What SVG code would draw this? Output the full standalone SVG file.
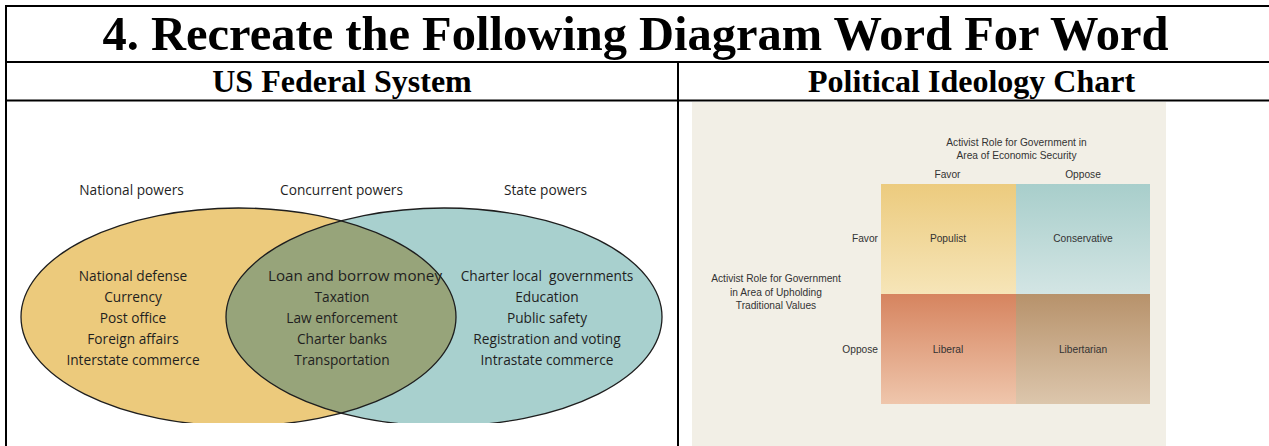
<svg xmlns="http://www.w3.org/2000/svg" width="1269" height="446" viewBox="0 0 1269 446">
<style>
.rule{stroke:#000;stroke-width:2;fill:none}
.title{font-family:"Liberation Serif","Times New Roman",serif;font-weight:bold;fill:#000;text-anchor:middle}
.venn{font-family:"Open Sans","Liberation Sans",sans-serif;font-size:13.7px;fill:#1f1f1f;text-anchor:middle}
.chart{font-family:"Liberation Sans",Arial,sans-serif;font-size:10.2px;fill:#333;text-anchor:middle}
.edge{fill:none;stroke:#1e1e1e;stroke-width:1.3}
</style>
<defs>
<clipPath id="vennClip"><rect x="0" y="100" width="678" height="323"/></clipPath>
<clipPath id="leftClip"><ellipse cx="238.5" cy="317" rx="217.5" ry="109"/></clipPath>
<linearGradient id="gPop" x1="0" y1="0" x2="0" y2="1"><stop offset="0" stop-color="#ECCB7E"/><stop offset="1" stop-color="#F6E5B8"/></linearGradient>
<linearGradient id="gCon" x1="0" y1="0" x2="0" y2="1"><stop offset="0" stop-color="#A8CECB"/><stop offset="1" stop-color="#D3E5E4"/></linearGradient>
<linearGradient id="gLib" x1="0" y1="0" x2="0" y2="1"><stop offset="0" stop-color="#D6845F"/><stop offset="1" stop-color="#EFC6AC"/></linearGradient>
<linearGradient id="gLbt" x1="0" y1="0" x2="0" y2="1"><stop offset="0" stop-color="#B7926B"/><stop offset="1" stop-color="#DCC6AC"/></linearGradient>
</defs>
<rect width="1269" height="446" fill="#fff"/>

<g id="table">
<line class="rule" x1="5" y1="6" x2="1269" y2="6"/>
<line class="rule" x1="6" y1="5" x2="6" y2="446"/>
<line class="rule" x1="5" y1="62" x2="1269" y2="62"/>
<line class="rule" x1="5" y1="100.5" x2="1269" y2="100.5"/>
<line class="rule" x1="678" y1="62" x2="678" y2="446"/>
<text class="title" x="635.5" y="50" font-size="48.5">4. Recreate the Following Diagram Word For Word</text>
<text class="title" x="342" y="92" font-size="32">US Federal System</text>
<text class="title" x="971.5" y="92" font-size="32">Political Ideology Chart</text>
</g>

<g id="venn" clip-path="url(#vennClip)">
<g id="national-powers">
<ellipse cx="238.5" cy="317" rx="217.5" ry="109" fill="#ECCA7C"/>
</g>
<g id="state-powers">
<ellipse cx="444" cy="317" rx="218" ry="109" fill="#A8D0CE"/>
</g>
<g id="concurrent-powers">
<ellipse cx="444" cy="317" rx="218" ry="109" fill="#97A47A" clip-path="url(#leftClip)"/>
</g>
<g id="outlines">
<ellipse class="edge" cx="238.5" cy="317" rx="217.5" ry="109"/>
<ellipse class="edge" cx="444" cy="317" rx="218" ry="109"/>
</g>
</g>
<g id="venn-labels" class="venn">
<text x="131.5" y="195">National powers</text>
<text x="341.5" y="195">Concurrent powers</text>
<text x="545.5" y="195">State powers</text>
<text x="133" y="281">National defense</text>
<text x="133" y="302">Currency</text>
<text x="133" y="323">Post office</text>
<text x="133" y="344">Foreign affairs</text>
<text x="133" y="365">Interstate commerce</text>
<text x="355" y="281" textLength="174" lengthAdjust="spacingAndGlyphs">Loan and borrow money</text>
<text x="342" y="302">Taxation</text>
<text x="342" y="323">Law enforcement</text>
<text x="342" y="344">Charter banks</text>
<text x="342" y="365">Transportation</text>
<text x="547" y="281" xml:space="preserve">Charter local  governments</text>
<text x="547" y="302">Education</text>
<text x="547" y="323">Public safety</text>
<text x="547" y="344">Registration and voting</text>
<text x="547" y="365">Intrastate commerce</text>
</g>

<g id="ideology-chart">
<rect x="692" y="102" width="474" height="344" fill="#F2EFE6"/>
<g id="populist"><rect x="881" y="184" width="135" height="110" fill="url(#gPop)"/><text class="chart" x="948" y="242">Populist</text></g>
<g id="conservative"><rect x="1016" y="184" width="134" height="110" fill="url(#gCon)"/><text class="chart" x="1083" y="242">Conservative</text></g>
<g id="liberal"><rect x="881" y="294" width="135" height="110" fill="url(#gLib)"/><text class="chart" x="948" y="353">Liberal</text></g>
<g id="libertarian"><rect x="1016" y="294" width="134" height="110" fill="url(#gLbt)"/><text class="chart" x="1083" y="353">Libertarian</text></g>
<g id="axis-labels" class="chart">
<text x="1016.5" y="146">Activist Role for Government in</text>
<text x="1016.5" y="159">Area of Economic Security</text>
<text x="947.5" y="177.5">Favor</text>
<text x="1083" y="177.5">Oppose</text>
<text x="878" y="242" text-anchor="end">Favor</text>
<text x="878" y="353" text-anchor="end">Oppose</text>
<text x="776" y="282">Activist Role for Government</text>
<text x="776" y="295.5">in Area of Upholding</text>
<text x="776" y="308.5">Traditional Values</text>
</g>
</g>
</svg>
